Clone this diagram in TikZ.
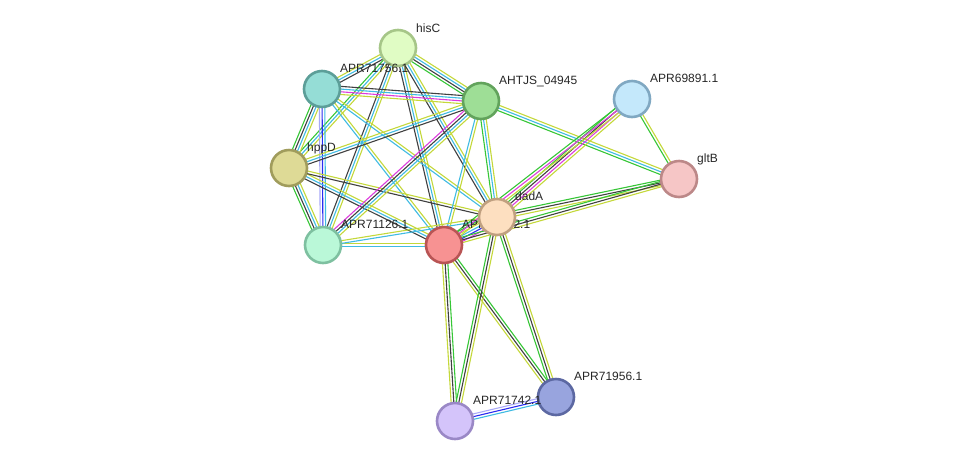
\documentclass[tikz,border=0pt]{standalone}
\usepackage{fontspec}
\setmainfont{Liberation Sans}
\usepackage{tikz}
\usetikzlibrary{calc}
\definecolor{sttxt}{HTML}{C4D83A}
\definecolor{stdb}{HTML}{40BBE2}
\definecolor{stco}{HTML}{404040}
\definecolor{stnb}{HTML}{36C636}
\definecolor{stex}{HTML}{DD3CDD}
\definecolor{stcc}{HTML}{2B2BF0}
\definecolor{sthm}{HTML}{A9A9F7}
% protein fills and borders
\definecolor{HisFl}{HTML}{E0FCC4}\definecolor{HisBd}{HTML}{A6C688}
\definecolor{Tl1Fl}{HTML}{95DDD6}\definecolor{Tl1Bd}{HTML}{5C9E98}
\definecolor{AhFl}{HTML}{9EDE96}\definecolor{AhBd}{HTML}{62A35C}
\definecolor{BlFl}{HTML}{C4E8FB}\definecolor{BlBd}{HTML}{80A8C2}
\definecolor{HpFl}{HTML}{DEDA96}\definecolor{HpBd}{HTML}{A09C5C}
\definecolor{GlFl}{HTML}{F6C6C6}\definecolor{GlBd}{HTML}{BC8888}
\definecolor{MtFl}{HTML}{BAF8D8}\definecolor{MtBd}{HTML}{7EC0A0}
\definecolor{RdFl}{HTML}{F79292}\definecolor{RdBd}{HTML}{B85454}
\definecolor{NvFl}{HTML}{98A4DE}\definecolor{NvBd}{HTML}{5C68A2}
\definecolor{LvFl}{HTML}{D4C4FA}\definecolor{LvBd}{HTML}{9A88C6}
\definecolor{DaFl}{HTML}{FDDFC0}\definecolor{DaBd}{HTML}{C0A080}
\tikzset{
  edge/.style   = {line width=1.1pt},
  txtm/.style   = {edge, draw=sttxt},
  dbase/.style  = {edge, draw=stdb},
  coexp/.style  = {edge, draw=stco},
  nbhd/.style   = {edge, draw=stnb},
  exper/.style  = {edge, draw=stex},
  cooc/.style   = {edge, draw=stcc},
  homol/.style  = {edge, draw=sthm},
  prot/.style   = {circle, minimum size=36pt, inner sep=0pt, line width=2.6pt},
  lbl/.style    = {font=\fontsize{12}{14}\selectfont, anchor=base west,
                   inner sep=0pt, text=black!85},
}
% one bundle of parallel evidence lines between two proteins
\newcommand{\bundle}[3]{%
  \foreach \c [count=\k] in {#3} {\xdef\bn{\k}}%
  \foreach \c [count=\k] in {#3} {%
    \pgfmathsetmacro\off{(\k-(\bn+1)/2)*2.7}%
    \draw[\c] ($(#1)!\off pt!90:(#2)$) -- ($(#2)!\off pt!-90:(#1)$);
  }}

\begin{document}
\begin{tikzpicture}[x=1pt, y=-1pt]
  \useasboundingbox (0,0) rectangle (975,467);

  \coordinate (hisC)  at (398,48);
  \coordinate (a1756) at (322,89);
  \coordinate (ahtjs) at (481,101);
  \coordinate (a9891) at (632,99);
  \coordinate (hppD)  at (289,168);
  \coordinate (gltB)  at (679,179);
  \coordinate (dadA)  at (497,217);
  \coordinate (a1126) at (323,245);
  \coordinate (a1762) at (444,245);
  \coordinate (a1956) at (556,397);
  \coordinate (a1742) at (455,421);

  % edges
  \bundle{hisC}{a1756}{txtm,dbase,coexp}
  \bundle{hisC}{ahtjs}{nbhd,coexp,dbase,txtm}
  \bundle{hisC}{hppD}{nbhd,dbase,txtm}
  \bundle{hisC}{a1126}{coexp,dbase,txtm}
  \bundle{hisC}{a1762}{coexp,dbase,txtm}
  \bundle{hisC}{dadA}{coexp,dbase,txtm}
  \bundle{a1756}{ahtjs}{txtm,exper,dbase,coexp}
  \bundle{a1756}{hppD}{nbhd,coexp,dbase,txtm}
  \bundle{a1756}{a1126}{homol,cooc,dbase}
  \bundle{a1756}{a1762}{dbase,txtm}
  \bundle{a1756}{dadA}{dbase,txtm}
  \bundle{hppD}{ahtjs}{coexp,dbase,txtm}
  \bundle{hppD}{a1126}{nbhd,coexp,dbase,txtm}
  \bundle{hppD}{a1762}{coexp,dbase,txtm}
  \bundle{hppD}{dadA}{coexp,txtm}
  \bundle{ahtjs}{a1126}{exper,coexp,dbase,txtm}
  \bundle{ahtjs}{a1762}{dbase,txtm}
  \bundle{ahtjs}{dadA}{nbhd,dbase,txtm}
  \bundle{ahtjs}{gltB}{nbhd,dbase,txtm}
  \bundle{a1126}{a1762}{dbase,txtm}
  \bundle{a1126}{dadA}{dbase,txtm}
  \bundle{a1762}{dadA}{exper,cooc,dbase,txtm,nbhd}
  \bundle{dadA}{a9891}{txtm,exper,coexp,nbhd}
  \bundle{a1762}{a9891}{txtm,exper,nbhd}
  \bundle{dadA}{gltB}{txtm,coexp,nbhd}
  \bundle{a1762}{gltB}{txtm,coexp,nbhd}
  \bundle{a9891}{gltB}{nbhd,txtm}
  \bundle{a1762}{a1742}{txtm,coexp,nbhd}
  \bundle{a1762}{a1956}{txtm,coexp,nbhd}
  \bundle{dadA}{a1742}{nbhd,coexp,txtm}
  \bundle{dadA}{a1956}{nbhd,coexp,txtm}
  \bundle{a1742}{a1956}{dbase,cooc,homol}

  % proteins
  \node[prot, draw=HisBd, fill=HisFl] (hisC-n) at (hisC) {};
  \node[lbl] (hisC-l) at ([shift={(18pt,16pt)}]hisC) {hisC};
  \node[prot, draw=Tl1Bd, fill=Tl1Fl] (a1756-n) at (a1756) {};
  \node[lbl] (a1756-l) at ([shift={(18pt,17pt)}]a1756) {APR71756.1};
  \node[prot, draw=AhBd, fill=AhFl] (ahtjs-n) at (ahtjs) {};
  \node[lbl] (ahtjs-l) at ([shift={(18pt,17pt)}]ahtjs) {AHTJS\_04945};
  \node[prot, draw=BlBd, fill=BlFl] (a9891-n) at (a9891) {};
  \node[lbl] (a9891-l) at ([shift={(18pt,17pt)}]a9891) {APR69891.1};
  \node[prot, draw=HpBd, fill=HpFl] (hppD-n) at (hppD) {};
  \node[lbl] (hppD-l) at ([shift={(18pt,17pt)}]hppD) {hppD};
  \node[prot, draw=GlBd, fill=GlFl] (gltB-n) at (gltB) {};
  \node[lbl] (gltB-l) at ([shift={(18pt,17pt)}]gltB) {gltB};
  \node[prot, draw=MtBd, fill=MtFl] (a1126-n) at (a1126) {};
  \node[lbl] (a1126-l) at ([shift={(18pt,17pt)}]a1126) {APR71126.1};
  \node[prot, draw=RdBd, fill=RdFl] (a1762-n) at (a1762) {};
  \node[lbl] (a1762-l) at ([shift={(18pt,17pt)}]a1762) {APR71762.1};
  \node[prot, draw=NvBd, fill=NvFl] (a1956-n) at (a1956) {};
  \node[lbl] (a1956-l) at ([shift={(18pt,17pt)}]a1956) {APR71956.1};
  \node[prot, draw=LvBd, fill=LvFl] (a1742-n) at (a1742) {};
  \node[lbl] (a1742-l) at ([shift={(18pt,17pt)}]a1742) {APR71742.1};
  \node[prot, draw=DaBd, fill=DaFl] (dadA-n) at (dadA) {};
  \node[lbl] (dadA-l) at ([shift={(18pt,17pt)}]dadA) {dadA};
\end{tikzpicture}
\end{document}
